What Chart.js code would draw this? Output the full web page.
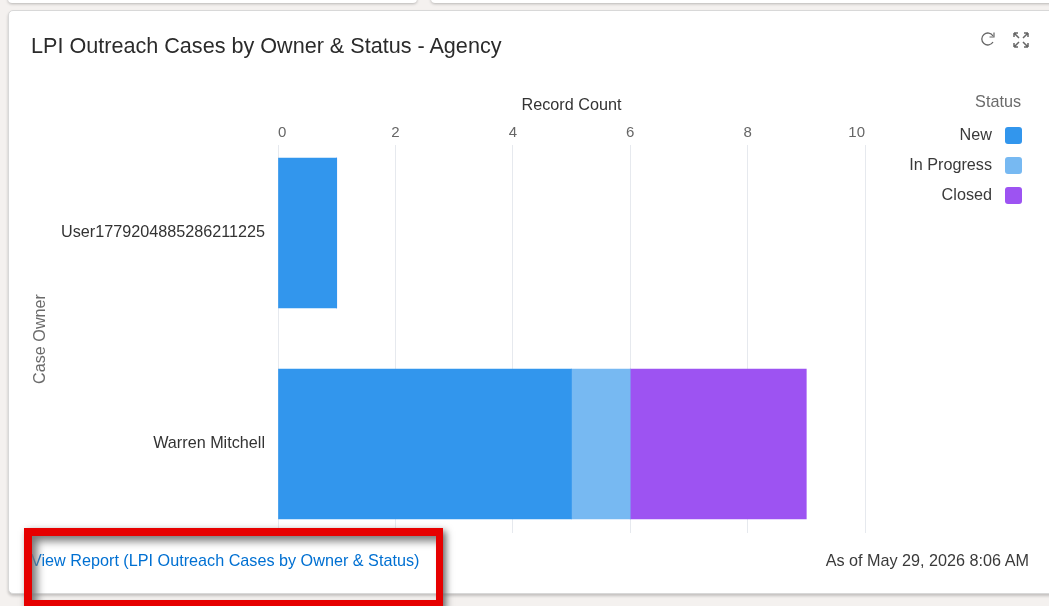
<!DOCTYPE html>
<html>
<head>
<meta charset="utf-8">
<title>LPI Outreach Cases by Owner & Status - Agency</title>
<script src="https://cdn.jsdelivr.net/npm/chart.js@4"></script>
<style>
  html, body { margin: 0; height: 100%; overflow: hidden; background: #f4f1ef; }
  body { position: relative; width: 1049px; height: 606px; font-family: "Liberation Sans", Arial, sans-serif; color: #333; }
  .stub { position: absolute; top: -10px; height: 13px; background: #fff; border-radius: 4px; box-shadow: 0 1px 3px rgba(0,0,0,.25); }
  #card { position: absolute; left: 8px; top: 10px; width: 1060px; height: 582px; background: #fff; border: 1px solid #d8d8d8; border-radius: 5px; box-shadow: 0 2px 3px rgba(0,0,0,.2); }
  #chart { position: absolute; left: 0; top: 0; }
  .txt { position: absolute; white-space: nowrap; line-height: 1; }
  #title { left: 31px; top: 35px; font-size: 21.6px; color: #2b2b2b; }
  #link { left: 31px; top: 552px; font-size: 16.2px; color: #0070d2; }
  #asof { right: 20px; top: 552px; font-size: 16.2px; color: #3a3a3a; }
  #legendTitle { right: 28px; top: 93px; font-size: 16.2px; color: #6b6b6b; }
  .legText { right: 57px; font-size: 16.2px; color: #3a3a3a; }
  .swatch { position: absolute; left: 1005px; width: 17px; height: 17px; border-radius: 3px; }
  #redBox { position: absolute; left: 24px; top: 528px; width: 404px; height: 64px; border: 8px solid #e60000; border-right-width: 7px; box-shadow: 3px 3px 7px #666, inset 6px 6px 8px -1px #777; }
  svg { position: absolute; }
</style>
</head>
<body>
<div class="stub" style="left:8px;width:409px"></div>
<div class="stub" style="left:431px;width:640px"></div>
<div id="card"></div>
<canvas id="chart" width="1049" height="606"></canvas>
<div class="txt" id="title">LPI Outreach Cases by Owner &amp; Status - Agency</div>
<svg style="left:980px;top:31px" width="17" height="17" viewBox="0 0 17 17" fill="none" stroke="#666" stroke-width="1.3">
  <path d="M13 5 A6 6 0 1 0 13 11"/><path d="M9.5 6 H14 V1.5" stroke-width="1.2"/>
</svg>
<svg style="left:1013px;top:32px" width="16" height="16" viewBox="0 0 16 16" fill="none" stroke="#666" stroke-width="1.5">
  <path d="M1 1 L6 6 M1 1 h4 M1 1 v4 M15 1 L10 6 M15 1 h-4 M15 1 v4 M1 15 L6 10 M1 15 h4 M1 15 v-4 M15 15 L10 10 M15 15 h-4 M15 15 v-4"/>
</svg>
<div class="txt" id="legendTitle">Status</div>
<div id="legend"></div>
<div class="txt" id="link">View Report (LPI Outreach Cases by Owner &amp; Status)</div>
<div class="txt" id="asof">As of May 29, 2026 8:06 AM</div>
<div id="redBox"></div>
<script>
const owners = ['User1779204885286211225', 'Warren Mitchell'];
const statuses = ['New', 'In Progress', 'Closed'];
const newCounts = [1, 5];
const inProgressCounts = [0, 1];
const closedCounts = [0, 3];
const colors = ['#3296ed', '#77b9f2', '#9d53f2'];
const xTicks = [0, 2, 4, 6, 8, 10];

const fontFamily = '"Liberation Sans", Arial, sans-serif';

const datasets = [newCounts, inProgressCounts, closedCounts].map((counts, s) => ({
  label: statuses[s],
  data: counts.map((count, i) => ({ x: count, y: i })),
  backgroundColor: colors[s],
  barThickness: 150,
}));

const ctx = document.getElementById('chart').getContext('2d');
const myChart = new Chart(ctx, {
  type: 'bar',
  data: { datasets: datasets },
  options: {
    indexAxis: 'y',
    responsive: false,
    animation: false,
    layout: { padding: { left: 31, right: 184, top: 96, bottom: 73 } },
    plugins: { legend: { display: false }, tooltip: { enabled: false } },
    scales: {
      x: {
        position: 'top',
        stacked: true,
        min: 0,
        max: 10,
        afterBuildTicks: (axis) => { axis.ticks = xTicks.map((v) => ({ value: v })); },
        afterFit: (axis) => { axis.height = 49; },
        title: { display: true, text: 'Record Count', color: '#333', font: { family: fontFamily, size: 16.2 }, padding: 0 },
        ticks: { align: 'inner', color: '#666', font: { family: fontFamily, size: 15 }, padding: 3, maxRotation: 0 },
        grid: { color: '#e6e9ee', drawTicks: false },
        border: { display: false },
      },
      y: {
        type: 'linear',
        offset: false,
        stacked: true,
        reverse: true,
        // bars sit off-centre in the plot, so the band is set by hand
        min: -0.417,
        max: 1.422,
        afterBuildTicks: (axis) => { axis.ticks = owners.map((o, i) => ({ value: i })); },
        afterFit: (axis) => { axis.width = 247; },
        title: { display: true, text: 'Case Owner', color: '#6b6b6b', font: { family: fontFamily, size: 16.2 }, padding: 0 },
        ticks: {
          autoSkip: false,
          color: '#333',
          font: { family: fontFamily, size: 16.2 },
          padding: 5,
          callback: (value) => owners[value],
        },
        grid: { display: false },
        border: { display: false },
      },
    },
  },
});

// legend on the right, built from the datasets
const legend = document.getElementById('legend');
myChart.data.datasets.forEach((ds, i) => {
  const top = 127 + i * 30;
  const label = document.createElement('div');
  label.className = 'txt legText';
  label.style.top = (top - 1) + 'px';
  label.textContent = ds.label;
  legend.appendChild(label);
  const swatch = document.createElement('div');
  swatch.className = 'swatch';
  swatch.style.top = top + 'px';
  swatch.style.background = ds.backgroundColor;
  legend.appendChild(swatch);
});
</script>
</body>
</html>
